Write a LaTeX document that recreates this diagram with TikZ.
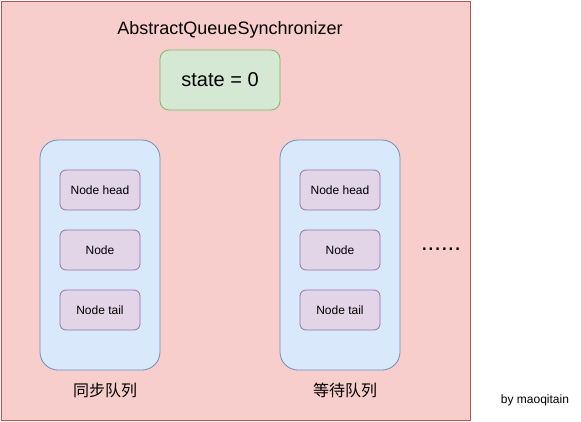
\documentclass[tikz,border=0pt]{standalone}
\usepackage{fontspec}
\setmainfont{Liberation Sans}
\newfontfamily\cjk{Noto Sans CJK SC}
\definecolor{redfill}{HTML}{F8CECC}
\definecolor{redline}{HTML}{B85450}
\definecolor{greenfill}{HTML}{D5E8D4}
\definecolor{greenline}{HTML}{82B366}
\definecolor{bluefill}{HTML}{DAE8FC}
\definecolor{blueline}{HTML}{6C8EBF}
\definecolor{purplefill}{HTML}{E1D5E7}
\definecolor{purpleline}{HTML}{9673A6}
\begin{document}
\begin{tikzpicture}[x=1pt,y=-1pt,
  outerbox/.style={draw=redline,fill=redfill,line width=0.8pt},
  statebox/.style={draw=greenline,fill=greenfill,rounded corners=9pt,line width=0.8pt,minimum width=120pt,minimum height=60pt,inner sep=0pt,font=\fontsize{20}{24}\selectfont},
  queuebox/.style={draw=blueline,fill=bluefill,rounded corners=18pt,line width=0.8pt,minimum width=120pt,minimum height=230pt,inner sep=0pt},
  itembox/.style={draw=purpleline,fill=purplefill,rounded corners=6pt,line width=0.8pt,minimum width=80pt,minimum height=40pt,inner sep=0pt,font=\fontsize{12}{14}\selectfont},
  qlabel/.style={font=\cjk\fontsize{16}{18}\selectfont,inner sep=0pt}
]
\useasboundingbox (0,0) rectangle (581,421);
\node[outerbox,minimum width=469pt,minimum height=419pt,inner sep=0pt,anchor=north west] (aqs) at (0.5,0.5) {};
\node[inner sep=0pt,font=\fontsize{18}{20}\selectfont] (title) at (230,30) {AbstractQueueSynchronizer};
\node[statebox] (state) at (220,80) {state = 0};

\node[queuebox] (q1) at (100,255) {};
\node[itembox] (q1head) at (100,190) {Node head};
\node[itembox] (q1node) at (100,250) {Node};
\node[itembox] (q1tail) at (100,310) {Node tail};
\node[qlabel] (q1label) at (105,390) {同步队列};

\node[queuebox] (q2) at (340,255) {};
\node[itembox] (q2head) at (340,190) {Node head};
\node[itembox] (q2node) at (340,250) {Node};
\node[itembox] (q2tail) at (340,310) {Node tail};
\node[qlabel] (q2label) at (345,390) {等待队列};

\node[inner sep=0pt,anchor=base,font=\fontsize{24}{26}\selectfont] (dots) at (441,250) {......};
\node[inner sep=0pt,font=\fontsize{12}{14}\selectfont] (author) at (535,400) {by maoqitain};
\end{tikzpicture}
\end{document}
